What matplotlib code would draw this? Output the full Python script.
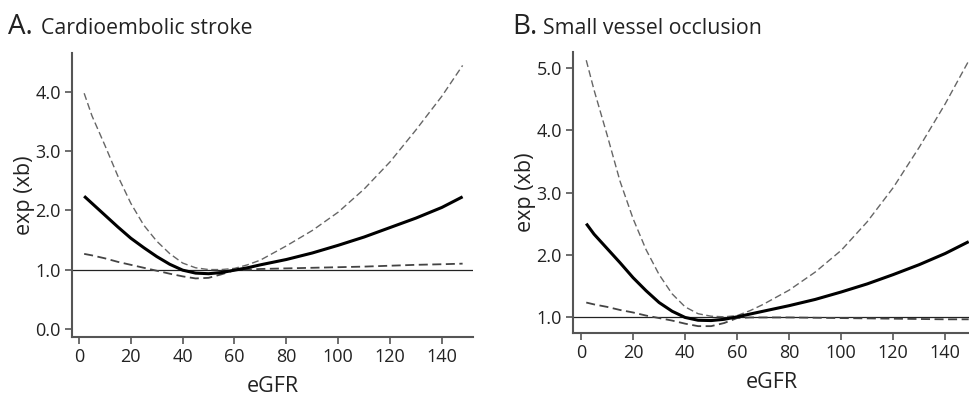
import matplotlib
matplotlib.use("Agg")
import matplotlib.pyplot as plt

plt.rcParams['font.family'] = ['Open Sans', 'DejaVu Sans']

# Panel A - cardioembolic stroke
a_x = [2, 5, 10, 15, 20, 25, 30, 35, 40, 45, 50, 55, 60, 65, 70, 80, 90, 100, 110, 120, 130, 140, 148]
a_est = [2.24, 2.12, 1.92, 1.72, 1.53, 1.37, 1.22, 1.09, 0.99, 0.94, 0.93, 0.95, 0.99, 1.03, 1.08,
         1.17, 1.28, 1.41, 1.55, 1.71, 1.87, 2.05, 2.23]
a_hi = [3.98, 3.60, 3.10, 2.58, 2.12, 1.75, 1.48, 1.27, 1.11, 1.03, 1.00, 1.00, 1.02, 1.08, 1.16,
        1.40, 1.66, 1.97, 2.36, 2.82, 3.36, 3.93, 4.45]
a_lo = [1.265, 1.24, 1.19, 1.13, 1.08, 1.03, 0.98, 0.93, 0.885, 0.85, 0.86, 0.92, 0.99, 1.00, 1.01,
        1.02, 1.03, 1.04, 1.05, 1.065, 1.08, 1.09, 1.10]

# Panel B - small vessel occlusion
b_x = [2, 5, 10, 15, 20, 25, 30, 35, 40, 45, 50, 55, 60, 65, 70, 80, 90, 100, 110, 120, 130, 140, 149]
b_est = [2.50, 2.33, 2.10, 1.87, 1.63, 1.42, 1.23, 1.09, 0.99, 0.945, 0.94, 0.96, 1.00, 1.045, 1.09,
         1.18, 1.28, 1.40, 1.53, 1.68, 1.84, 2.02, 2.21]
b_hi = [5.13, 4.65, 3.93, 3.18, 2.58, 2.08, 1.68, 1.37, 1.16, 1.05, 1.01, 1.00, 1.02, 1.10, 1.20,
        1.43, 1.72, 2.07, 2.53, 3.08, 3.73, 4.43, 5.12]
b_lo = [1.23, 1.20, 1.16, 1.11, 1.07, 1.02, 0.98, 0.94, 0.89, 0.85, 0.85, 0.90, 0.98, 0.99, 0.99,
        0.99, 0.985, 0.98, 0.975, 0.97, 0.965, 0.96, 0.96]

a_yticks = [0, 1, 2, 3, 4]
b_yticks = [1, 2, 3, 4, 5]
x_ticks = [0, 20, 40, 60, 80, 100, 120, 140]

fig = plt.figure(figsize=(9.7, 3.95), dpi=100)
ax_a = fig.add_axes([0.0742, 0.1468, 0.4134, 0.719])
ax_b = fig.add_axes([0.5907, 0.157, 0.4093, 0.711])

spine_col = '#555555'


def draw(ax, x, est, hi, lo, yticks, xlim, ylim, ylab_pad):
    ax.axhline(1.0, color='#222222', lw=0.9, zorder=1)
    ax.plot(x, hi, color='#666666', lw=1.0, dashes=(5, 2.5), zorder=2)
    ax.plot(x, lo, color='#444444', lw=1.3, dashes=(5, 2.5), zorder=2)
    ax.plot(x, est, color='black', lw=2.2, zorder=3, solid_capstyle='butt')
    ax.set_xlim(*xlim)
    ax.set_ylim(*ylim)
    ax.set_xticks(x_ticks)
    ax.set_yticks(yticks)
    ax.set_yticklabels([f"{v:.1f}" for v in yticks])
    for s in ('top', 'right'):
        ax.spines[s].set_visible(False)
    for s in ('left', 'bottom'):
        ax.spines[s].set_color(spine_col)
        ax.spines[s].set_linewidth(1.5)
    ax.tick_params(direction='out', length=5, width=1.2, color=spine_col,
                   labelsize=13, labelcolor='#222222', pad=3)
    ax.set_xlabel('eGFR', fontsize=15.5, color='#222222', labelpad=7)
    ax.set_ylabel('exp (xb)', fontsize=15.5, color='#222222', labelpad=ylab_pad)


draw(ax_a, a_x, a_est, a_hi, a_lo, a_yticks, (-2.7, 152), (-0.14, 4.66), 0)
draw(ax_b, b_x, b_est, b_hi, b_lo, b_yticks, (-3.1, 149.5), (0.74, 5.26), 0)

fig.text(0.008, 0.913, 'A.', fontsize=20, color='#222222')
fig.text(0.042, 0.913, 'Cardioembolic stroke', fontsize=15.3, color='#222222')
fig.text(0.528, 0.913, 'B.', fontsize=20, color='#222222')
fig.text(0.560, 0.913, 'Small vessel occlusion', fontsize=15.3, color='#222222')

fig.savefig('out.png', dpi=100)
